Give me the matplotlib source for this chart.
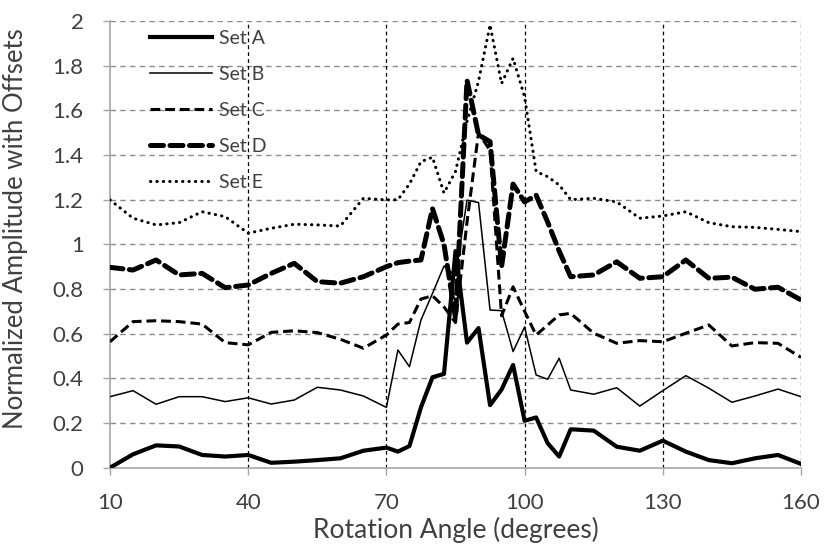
import matplotlib
matplotlib.use("Agg")
import matplotlib.pyplot as plt

angles = [10, 15, 20, 25, 30, 35, 40, 45, 50, 55, 60, 65, 70,
          72.5, 75, 77.5, 80, 82.5, 85, 87.5, 90, 92.5, 95, 97.5, 100,
          102.5, 105, 107.5, 110,
          115, 120, 125, 130, 135, 140, 145, 150, 155, 160]

set_a = [0.0, 0.06, 0.10, 0.095, 0.057, 0.05, 0.057, 0.022, 0.027, 0.034, 0.042, 0.076, 0.09,
         0.072, 0.097, 0.27, 0.405, 0.42, 0.97, 0.56, 0.625, 0.28, 0.35, 0.46, 0.21,
         0.225, 0.11, 0.05, 0.172,
         0.166, 0.094, 0.076, 0.121, 0.072, 0.034, 0.02, 0.042, 0.057, 0.017]
set_b = [0.318, 0.345, 0.284, 0.318, 0.318, 0.296, 0.313, 0.285, 0.303, 0.36, 0.348, 0.321, 0.27,
         0.527, 0.452, 0.661, 0.78, 0.903, 0.86, 1.198, 1.187, 0.706, 0.703, 0.52, 0.63,
         0.415, 0.396, 0.49, 0.348,
         0.329, 0.358, 0.276, 0.345, 0.412, 0.356, 0.293, 0.321, 0.352, 0.318]
set_c = [0.564, 0.654, 0.658, 0.654, 0.643, 0.56, 0.55, 0.606, 0.613, 0.605, 0.575, 0.535, 0.594,
         0.643, 0.65, 0.755, 0.77, 0.72, 0.65, 1.1, 1.5, 1.42, 0.68, 0.81, 0.70,
         0.594, 0.639, 0.684, 0.691,
         0.602, 0.557, 0.569, 0.564, 0.602, 0.639, 0.545, 0.56, 0.557, 0.494]
set_d = [0.897, 0.885, 0.93, 0.863, 0.87, 0.806, 0.818, 0.87, 0.915, 0.833, 0.826, 0.855, 0.9,
         0.918, 0.925, 0.93, 1.16, 1.0, 0.67, 1.735, 1.49, 1.46, 0.9, 1.27, 1.19,
         1.22, 1.1, 0.97, 0.855,
         0.863, 0.922, 0.848, 0.855, 0.93, 0.848, 0.853, 0.799, 0.808, 0.751]
set_e = [1.199, 1.117, 1.087, 1.097, 1.146, 1.124, 1.05, 1.072, 1.09, 1.087, 1.082, 1.206, 1.199,
         1.2, 1.27, 1.37, 1.39, 1.23, 1.326, 1.55, 1.73, 1.983, 1.72, 1.833, 1.66,
         1.326, 1.303, 1.266, 1.2,
         1.206, 1.19, 1.117, 1.127, 1.146, 1.097, 1.079, 1.076, 1.067, 1.057]

labels = ["Set A", "Set B", "Set C", "Set D", "Set E"]
x_ticks = [10, 40, 70, 100, 130, 160]
y_ticks = [0, 0.2, 0.4, 0.6, 0.8, 1, 1.2, 1.4, 1.6, 1.8, 2]
y_tick_labels = ["0", "0.2", "0.4", "0.6", "0.8", "1", "1.2", "1.4", "1.6", "1.8", "2"]

plt.rcParams['font.family'] = ['Lato', 'DejaVu Sans']
txt = '#404040'

fig = plt.figure(figsize=(8.24, 5.47), dpi=100)
ax = fig.add_axes([110/824, 1-467.7/547, (801-110)/824, (467.7-21)/547])

ax.plot(angles, set_a, color='black', lw=3.0, solid_joinstyle='round', label=labels[0], zorder=5)
ax.plot(angles, set_b, color='black', lw=1.1, label=labels[1], zorder=5)
ax.plot(angles, set_c, color='black', lw=2.2, dashes=(3.2, 1.6), label=labels[2], zorder=5)
ax.plot(angles, set_d, color='black', lw=3.6, dashes=(2.6, 1.3), dash_capstyle='round', label=labels[3], zorder=5)
ax.plot(angles, set_e, color='black', lw=2.2, dashes=(0.1, 2.0), dash_capstyle='round', label=labels[4], zorder=5)

ax.set_xlim(10, 160)
ax.set_ylim(0, 2)
ax.set_xticks(x_ticks)
ax.set_yticks(y_ticks)
ax.set_yticklabels(y_tick_labels)

for y in y_ticks[1:]:
    ax.axhline(y, color='#8c8c8c', lw=1.0, dashes=(4, 3), zorder=1)
for x in x_ticks[1:]:
    ax.axvline(x, color='black', lw=0.9, dashes=(3, 2.5), zorder=1)

for s in ['top', 'right']:
    ax.spines[s].set_visible(False)
ax.spines['left'].set_color('#a6a6a6')
ax.spines['bottom'].set_color('#a6a6a6')
ax.spines['left'].set_linewidth(1.2)
ax.spines['bottom'].set_linewidth(1.2)

ax.tick_params(axis='both', colors='#a6a6a6', labelcolor=txt, labelsize=16, length=5, width=1.0)
ax.tick_params(axis='x', pad=13)
ax.tick_params(axis='y', pad=14)

ax.set_xlabel("Rotation Angle (degrees)", fontsize=19, color=txt, labelpad=3)
ax.set_ylabel("Normalized Amplitude with Offsets", fontsize=18.5, color=txt)
ax.yaxis.set_label_coords(-0.118, 0.535)

leg = ax.legend(loc='upper left', bbox_to_anchor=(0.032, 1.02), frameon=False,
                fontsize=14, handlelength=3.2, handletextpad=0.35, labelspacing=0.98)
for t in leg.get_texts():
    t.set_color(txt)

fig.savefig("out.png", dpi=100)
